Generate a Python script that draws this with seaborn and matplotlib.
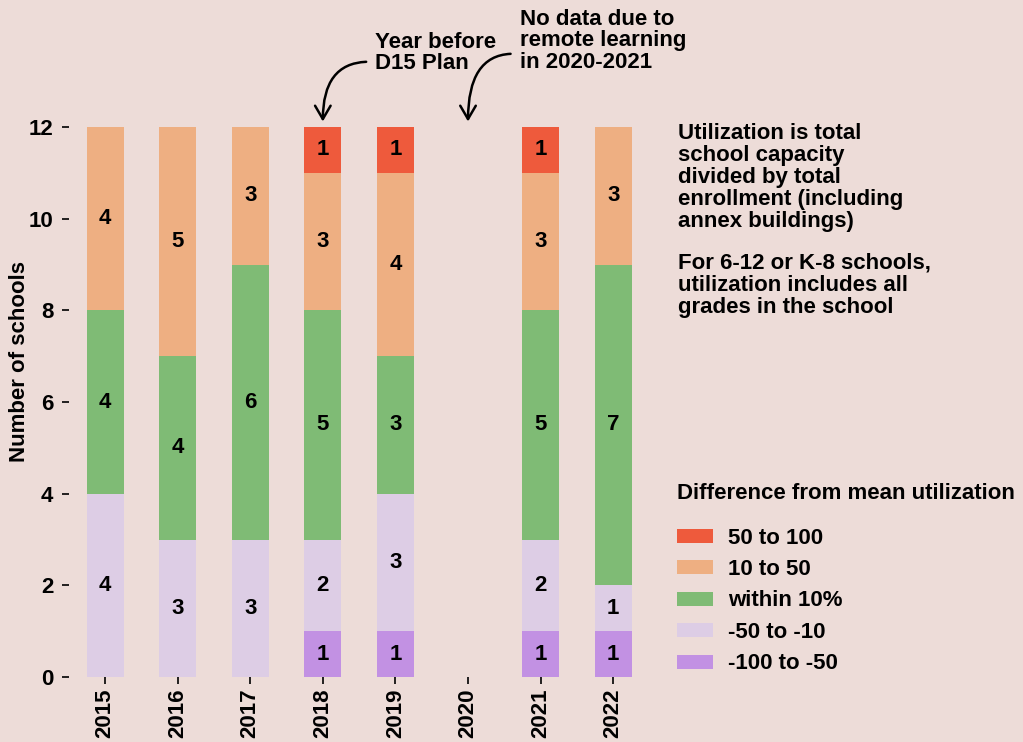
import numpy as np
import pandas as pd
import matplotlib
matplotlib.use("Agg")
import matplotlib.pyplot as plt
from matplotlib.patches import Patch
import seaborn as sns

# School counts per utilization band, by year (2020 has no data)
years = ["2015", "2016", "2017", "2018", "2019", "2020", "2021", "2022"]
band_neg_large = [0, 0, 0, 1, 1, 0, 1, 1]   # -100 to -50
band_neg_small = [4, 3, 3, 2, 3, 0, 2, 1]   # -50 to -10
band_within = [4, 4, 6, 5, 3, 0, 5, 7]      # within 10%
band_pos_small = [4, 5, 3, 3, 4, 0, 3, 3]   # 10 to 50
band_pos_large = [0, 0, 0, 1, 1, 0, 1, 0]   # 50 to 100

band_names = ["-100 to -50", "-50 to -10", "within 10%", "10 to 50", "50 to 100"]
band_values = [band_neg_large, band_neg_small, band_within, band_pos_small, band_pos_large]
band_colors = ["#C291E3", "#DDCDE5", "#7FBB75", "#EEAF82", "#EE5A3C"]
y_ticks = [0, 2, 4, 6, 8, 10, 12]

bg = "#EDDCD8"
sns.set_theme(style="white")
plt.rcParams["font.family"] = ["Liberation Sans", "DejaVu Sans"]
plt.rcParams["font.weight"] = "bold"
for key in ["text.color", "axes.labelcolor", "xtick.color", "ytick.color"]:
    plt.rcParams[key] = "black"

FS = 16

fig = plt.figure(figsize=(10.23, 7.42), dpi=100, facecolor=bg)
ax = fig.add_axes([0.0672, 0.0876, 0.5677, 0.7412], facecolor=bg)

bottom = np.zeros(len(years))
for name, vals, color in zip(band_names, band_values, band_colors):
    vals = np.array(vals, dtype=float)
    sns.barplot(x=years, y=vals, order=years, bottom=bottom.copy(), color=color,
                saturation=1, width=0.51, errorbar=None, linewidth=0, ax=ax)
    labels = [str(int(v)) if v > 0 else "" for v in vals]
    ax.bar_label(ax.containers[-1], labels=labels, label_type="center",
                 fontsize=FS, fontweight="bold", color="black")
    bottom += vals

ax.set_xlim(-0.5, 7.5)
ax.set_ylim(0, 12)
ax.set_yticks(y_ticks)
ax.set_xlabel("")
ax.set_ylabel("")
for s in ax.spines.values():
    s.set_visible(False)
ax.tick_params(axis="y", which="major", left=True, length=5, width=1.2, color="black",
               pad=6, labelsize=FS)
ax.tick_params(axis="x", which="major", bottom=True, length=5, width=1.2, color="black",
               pad=3, labelsize=FS, labelrotation=90)
for lab in ax.get_xticklabels() + ax.get_yticklabels():
    lab.set_fontweight("bold")

fig.text(20 / 1023, 1 - 362 / 742, "Number of schools", rotation=90, ha="center",
         va="center", fontsize=FS, fontweight="bold")

# Callouts with curved arrows
arrow_kw = dict(arrowstyle="->,head_length=0.6,head_width=0.35", color="black", lw=1.8,
                connectionstyle="angle3,angleA=0,angleB=90", shrinkA=2, shrinkB=0)
ax.annotate("Year before\nD15 Plan", xy=(3, 12.12), xycoords="data",
            xytext=(375 / 1023, 1 - 32 / 742), textcoords="figure fraction",
            ha="left", va="top", fontsize=FS, fontweight="bold", linespacing=1.03,
            arrowprops=dict(arrow_kw, relpos=(-0.05, 0.3)), annotation_clip=False)
ax.annotate("No data due to\nremote learning\nin 2020-2021", xy=(5, 12.12), xycoords="data",
            xytext=(520 / 1023, 1 - 9 / 742), textcoords="figure fraction",
            ha="left", va="top", fontsize=FS, fontweight="bold", linespacing=1.03,
            arrowprops=dict(arrow_kw, relpos=(-0.04, 0.3)), annotation_clip=False)

fig.text(678 / 1023, 1 - 123 / 742,
         "Utilization is total\nschool capacity\ndivided by total\nenrollment (including\nannex buildings)",
         ha="left", va="top", fontsize=FS, fontweight="bold", linespacing=1.07)
fig.text(678 / 1023, 1 - 253 / 742,
         "For 6-12 or K-8 schools,\nutilization includes all\ngrades in the school",
         ha="left", va="top", fontsize=FS, fontweight="bold", linespacing=1.05)

handles = [Patch(facecolor=c, edgecolor="none", label=n)
           for n, c in zip(band_names[::-1], band_colors[::-1])]
leg = ax.legend(handles=handles, loc="upper left", bbox_to_anchor=(677 / 1023, 1 - 483 / 742),
                bbox_transform=fig.transFigure, frameon=False, borderpad=0, borderaxespad=0,
                title="Difference from mean utilization", alignment="left",
                prop={"size": FS, "weight": "bold"},
                title_fontproperties={"size": FS, "weight": "bold"},
                handlelength=1.6, handleheight=0.6, handletextpad=0.7, labelspacing=0.47)
leg._legend_box.sep = 17

fig.savefig("out.png", dpi=100, facecolor=bg)
